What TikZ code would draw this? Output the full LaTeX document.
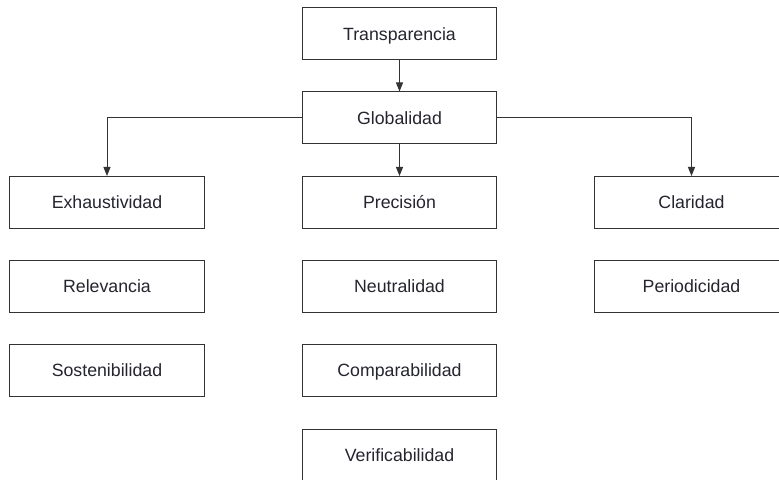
\documentclass[tikz,border=0pt]{standalone}
\usepackage{fontspec}
\setmainfont{Liberation Sans}
\usetikzlibrary{arrows.meta}
\definecolor{lc}{HTML}{333333}
\definecolor{tc}{HTML}{25252F}
\tikzset{
  box/.style={draw=lc, line width=1bp, minimum width=194bp, minimum height=52bp, inner sep=0pt, text=tc, text height=12.2pt, text depth=0pt, font=\fontsize{17.8}{20}\selectfont},
  conn/.style={draw=lc, line width=1bp, -{Triangle[length=9bp,width=7bp]}}
}
\begin{document}
\begin{tikzpicture}[x=1bp,y=-1bp]
\useasboundingbox (0,0) rectangle (779,480);
\clip (0,0) rectangle (779,480);
\fill[white] (0,0) rectangle (779,480);
\node[box] (tra) at (399.5,34) {Transparencia};
\node[box] (glo) at (399.5,118) {Globalidad};
\node[box] (pre) at (399.5,202.5) {Precisión};
\node[box] (neu) at (399.5,286.5) {Neutralidad};
\node[box] (com) at (399.5,370.5) {Comparabilidad};
\node[box] (ver) at (399.5,455) {Verificabilidad};
\node[box] (exh) at (107,202.5) {Exhaustividad};
\node[box] (rel) at (107,286.5) {Relevancia};
\node[box] (sos) at (107,370.5) {Sostenibilidad};
\node[box] (cla) at (691.5,202.5) {Claridad};
\node[box] (per) at (691.5,286.5) {Periodicidad};
\draw[conn] (tra) -- (glo);
\draw[conn] (glo) -- (pre);
\draw[conn] (glo.west) -| (exh.north);
\draw[conn] (glo.east) -| (cla.north);
\end{tikzpicture}
\end{document}
